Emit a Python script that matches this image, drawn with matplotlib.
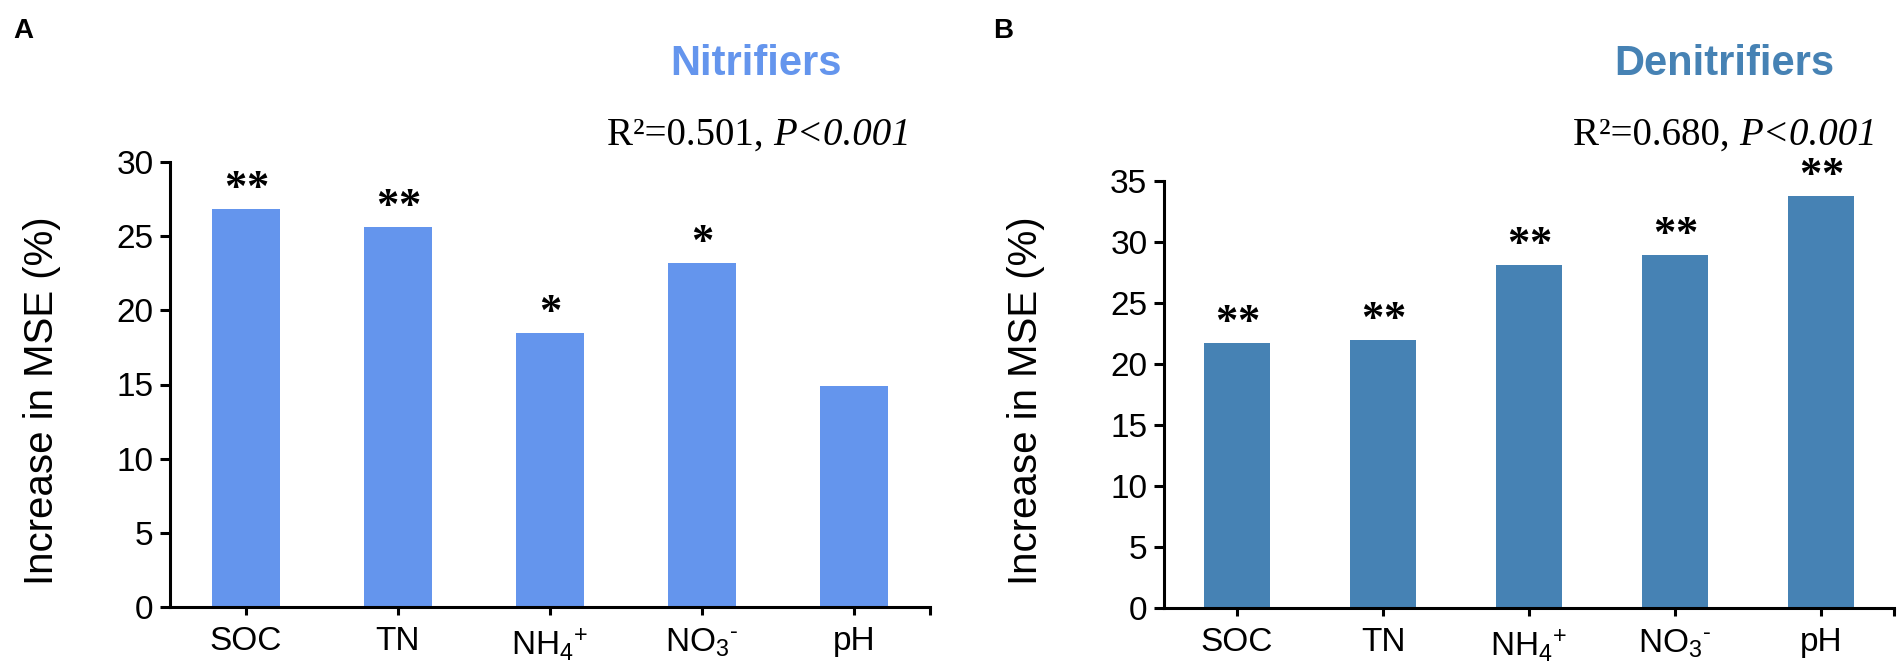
import matplotlib.pyplot as plt

plt.rcParams['font.family'] = 'Liberation Sans'
plt.rcParams['mathtext.fontset'] = 'custom'
plt.rcParams['mathtext.rm'] = 'Liberation Sans'
plt.rcParams['mathtext.it'] = 'Liberation Sans:italic'
plt.rcParams['mathtext.bf'] = 'Liberation Sans:bold'

factors = ['SOC', 'TN', r'NH$_4$$^{+}$', r'NO$_3$$^{\text{-}}$', 'pH']
nitrifiers = [26.8, 25.6, 18.5, 23.2, 14.9]
denitrifiers = [21.7, 22.0, 28.1, 28.9, 33.8]
nitrifier_stars = ['**', '**', '*', '*', '']
denitrifier_stars = ['**', '**', '**', '**', '**']

W, H = 1904, 671


def draw_panel(ax, values, stars, color, ymax):
    """Bar chart of MSE increase with significance stars."""
    x = list(range(len(values)))
    ax.bar(x, values, width=0.45, color=color, zorder=2)
    for xi, v, s in zip(x, values, stars):
        n = len(s)
        for k in range(n):
            # each asterisk drawn on its own so they sit a little apart
            ax.annotate('*', xy=(xi, v), xytext=((k - (n - 1) / 2) * 16, 0),
                        textcoords='offset points', ha='center', va='bottom',
                        fontsize=32, fontweight='bold', family='Liberation Serif')
    ax.set_xlim(-0.5, len(values) - 0.5)
    ax.set_ylim(0, ymax)
    ax.set_yticks(range(0, ymax + 1, 5))
    ax.set_xticks(x)
    ax.set_xticklabels(factors)
    ax.set_xticks([len(values) - 0.5], minor=True)
    for side in ['top', 'right']:
        ax.spines[side].set_visible(False)
    for side in ['left', 'bottom']:
        ax.spines[side].set_linewidth(2.2)
    ax.tick_params(axis='y', width=2.2, length=7, pad=5, labelsize=24)
    ax.tick_params(axis='x', which='both', width=2.2, length=6, pad=8, labelsize=24)
    ax.set_ylabel('Increase in MSE (%)', fontsize=29)


def add_stats(x_px, r2_text):
    """R² text in roman followed by the italic P value."""
    t = fig.text(x_px / W, 1 - 145 / H, r2_text, family='Liberation Serif',
                 fontsize=28, ha='left', va='baseline')
    fig.add_artist(plt.Annotation('P<0.001', xy=(1, 0), xycoords=t, va='bottom',
                                  ha='left', family='Liberation Serif',
                                  style='italic', fontsize=28))


fig = plt.figure(figsize=(W / 100, H / 100), dpi=100)

ax1 = fig.add_axes([170 / W, 1 - 607 / H, 760 / W, 445 / H])
draw_panel(ax1, nitrifiers, nitrifier_stars, '#6495ED', 30)
ax1.yaxis.set_label_coords((61 - 170) / 760, 0.463)

ax2 = fig.add_axes([1164 / W, 1 - 608 / H, 730 / W, 427 / H])
draw_panel(ax2, denitrifiers, denitrifier_stars, '#4682B4', 35)
ax2.yaxis.set_label_coords((1045 - 1164) / 730, 0.485)

fig.text(13 / W, 1 - 38 / H, 'A', fontsize=20, fontweight='bold', va='baseline')
fig.text(993 / W, 1 - 38 / H, 'B', fontsize=20, fontweight='bold', va='baseline')

fig.text(756 / W, 1 - 75 / H, 'Nitrifiers', fontsize=30, fontweight='bold',
         color='#6495ED', ha='center', va='baseline')
fig.text(1724 / W, 1 - 75 / H, 'Denitrifiers', fontsize=30, fontweight='bold',
         color='#4682B4', ha='center', va='baseline')

add_stats(607, 'R²=0.501, ')
add_stats(1573, 'R²=0.680, ')

fig.savefig('out.png', dpi=100)
